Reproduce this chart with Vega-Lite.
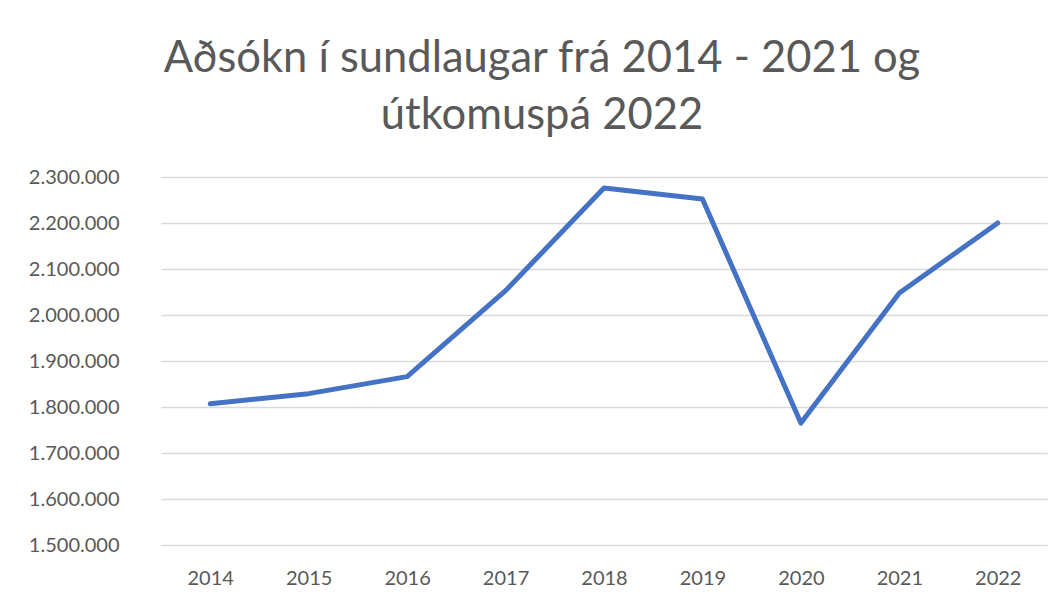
{
  "$schema": "https://vega.github.io/schema/vega-lite/v6.json",
  "width": 886,
  "height": 368,
  "autosize": {"type": "none"},
  "padding": {"left": 161, "top": 177, "right": 17, "bottom": 56},
  "background": "white",
  "title": {
    "text": ["Aðsókn í sundlaugar frá 2014 - 2021 og", "útkomuspá 2022"],
    "font": "Lato",
    "fontSize": 43.5,
    "fontWeight": "normal",
    "color": "#595959",
    "anchor": "middle",
    "dx": -62,
    "dy": -25,
    "lineHeight": 57
  },
  "data": {
    "values": [
      {"year": "2014", "value": 1807000},
      {"year": "2015", "value": 1829000},
      {"year": "2016", "value": 1866000},
      {"year": "2017", "value": 2053000},
      {"year": "2018", "value": 2276000},
      {"year": "2019", "value": 2252000},
      {"year": "2020", "value": 1765000},
      {"year": "2021", "value": 2048000},
      {"year": "2022", "value": 2200000}
    ]
  },
  "mark": {"type": "line", "color": "#4472C4", "strokeWidth": 5, "strokeCap": "round", "strokeJoin": "round"},
  "encoding": {
    "x": {
      "field": "year",
      "type": "ordinal",
      "scale": {"padding": 0.5},
      "axis": {
        "title": null,
        "labelAngle": 0,
        "labelFont": "Lato",
        "labelFontSize": 20,
        "labelColor": "#595959",
        "labelBaseline": "top",
        "labelPadding": 23,
        "ticks": false,
        "domain": false,
        "grid": false
      }
    },
    "y": {
      "field": "value",
      "type": "quantitative",
      "scale": {"domain": [1500000, 2300000], "nice": false, "zero": false},
      "axis": {
        "title": null,
        "values": [1500000, 1600000, 1700000, 1800000, 1900000, 2000000, 2100000, 2200000, 2300000],
        "format": ",d",
        "labelFont": "Lato",
        "labelFontSize": 20,
        "labelColor": "#595959",
        "labelPadding": 42,
        "ticks": false,
        "domain": false,
        "grid": true,
        "gridColor": "#D9D9D9",
        "gridWidth": 1.3
      }
    }
  },
  "config": {
    "view": {"stroke": null},
    "locale": {"number": {"decimal": ",", "thousands": ".", "grouping": [3], "currency": ["", " kr."]}}
  }
}
